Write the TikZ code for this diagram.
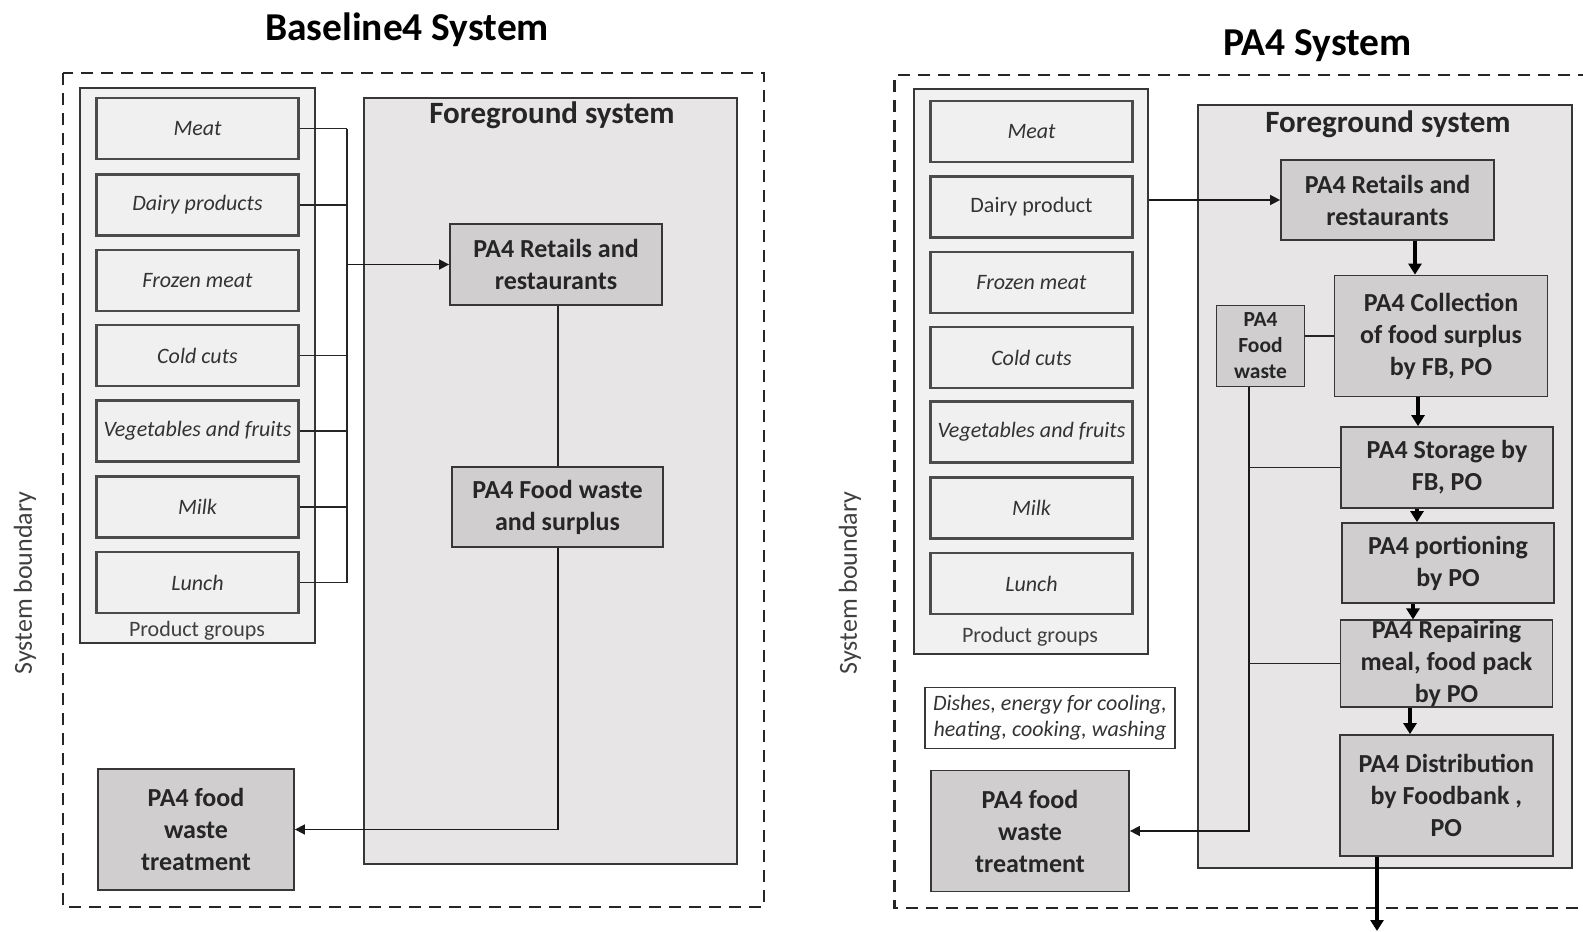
\documentclass[tikz,border=0pt]{standalone}
\usepackage{fontspec}
\setmainfont{Carlito}
\usetikzlibrary{arrows.meta}
\definecolor{fgfill}{RGB}{231,229,229}
\definecolor{procfill}{RGB}{208,206,206}
\definecolor{pgfill}{RGB}{241,241,241}
\definecolor{itemfill}{RGB}{240,240,240}
\definecolor{edge}{RGB}{55,55,55}
\definecolor{itemedge}{RGB}{75,75,75}
\definecolor{labgray}{RGB}{64,64,64}
\tikzset{
  pgbox/.style={draw=edge, line width=1.6pt, fill=pgfill, inner sep=0pt},
  fgbox/.style={draw=edge, line width=1.6pt, fill=fgfill, inner sep=0pt},
  itembox/.style={draw=itemedge, line width=2.2pt, fill=itemfill, inner sep=0pt,
    minimum width=202pt, minimum height=61pt, font=\fontsize{22}{26}\selectfont\itshape, text=black!80},
  procbox/.style={draw=edge, line width=1.8pt, fill=procfill, inner sep=0pt, align=center,
    font=\fontsize{26}{32}\selectfont\bfseries, text=black!85},
  smallproc/.style={draw=edge, line width=1.8pt, fill=procfill, inner sep=0pt, align=center,
    font=\fontsize{21.5}{26}\selectfont\bfseries, text=black!85},
  note/.style={draw=edge, line width=1.5pt, fill=white, inner sep=0pt, align=center,
    font=\fontsize{22}{26}\selectfont\itshape, text=black!80},
  titletext/.style={font=\fontsize{39.5}{44}\selectfont\bfseries},
  fgtitle/.style={font=\fontsize{31}{34}\selectfont\bfseries, text=black!85},
  grouplab/.style={font=\fontsize{22}{24}\selectfont, text=labgray},
  boundlab/.style={font=\fontsize{26}{28}\selectfont, text=labgray, rotate=90},
  conn/.style={draw=black!85, line width=1.5pt},
  arr/.style={draw=black!90, line width=1.6pt, -{Triangle[length=10pt,width=10pt]}},
  thickarr/.style={draw=black, line width=3.2pt, -{Triangle[length=11pt,width=13pt]}},
  bound/.style={draw=black!85, line width=2.6pt, dash pattern=on 12pt off 8pt},
}
\begin{document}
\begin{tikzpicture}[x=1pt,y=-1pt]
\useasboundingbox (0,0) rectangle (1583,932);

% ================= LEFT: Baseline4 =================
\node[titletext] (titleL) at (407,30) {Baseline4 System};
\draw[bound] (63,73) rectangle (764,907);
\node[boundlab] (sbL) at (25,583) {System boundary};

\node[pgbox, minimum width=235pt, minimum height=555pt] (pgL) at (197.5,365.5) {};
\node[grouplab] (pglabL) at (197,631) {Product groups};
\node[itembox] (mL) at (197.5,128.5) {Meat};
\node[itembox] (dL) at (197.5,205) {Dairy products};
\node[itembox] (frL) at (197.5,280.5) {Frozen meat};
\node[itembox] (cL) at (197.5,355.5) {Cold cuts};
\node[itembox] (vL) at (197.5,431) {Vegetables and fruits};
\node[itembox] (miL) at (197.5,507) {Milk};
\node[itembox] (luL) at (197.5,582.5) {Lunch};

\node[fgbox, minimum width=373pt, minimum height=766pt] (fgL) at (550.5,481) {};
\node[fgtitle] (fgtL) at (552,115) {Foreground system};

\node[procbox, minimum width=212pt, minimum height=81pt] (retL) at (556,264.5) {PA4 Retails and\\restaurants};
\node[procbox, minimum width=211pt, minimum height=80pt] (fwsL) at (557.5,507) {PA4 Food waste\\and surplus};
\node[procbox, minimum width=196pt, minimum height=121pt] (trtL) at (196,829.5) {PA4 food\\waste\\treatment};

\coordinate (busL) at (347,0);
\foreach \n in {mL,dL,cL,vL,miL,luL}{
  \draw[conn] (\n.east) -- (\n.east -| busL);
}
\draw[conn] (mL.east -| busL) -- (luL.east -| busL);
\draw[arr] (retL.west -| busL) -- (retL.west);
\coordinate (vlineL) at (558,0);
\draw[conn] (retL.south -| vlineL) -- (fwsL.north -| vlineL);
\draw[arr] (fwsL.south -| vlineL) |- (trtL.east);

% ================= RIGHT: PA4 =================
\node[titletext] (titleR) at (1317.5,46) {PA4 System};
\draw[bound] (1590,75) -- (894.5,75) -- (894.5,908) -- (1590,908);
\node[boundlab] (sbR) at (850,583) {System boundary};

\node[pgbox, minimum width=234pt, minimum height=565pt] (pgR) at (1031,371.5) {};
\node[grouplab] (pglabR) at (1030,637) {Product groups};
\node[itembox] (mR) at (1031.5,131.5) {Meat};
\node[itembox, font=\fontsize{22}{26}\selectfont] (dR) at (1031.5,207) {Dairy product};
\node[itembox] (frR) at (1031.5,282.5) {Frozen meat};
\node[itembox] (cR) at (1031.5,357.5) {Cold cuts};
\node[itembox] (vR) at (1031.5,432) {Vegetables and fruits};
\node[itembox] (miR) at (1031.5,508) {Milk};
\node[itembox] (luR) at (1031.5,583.5) {Lunch};

\node[note, minimum width=250pt, minimum height=61pt] (dish) at (1050,718) {Dishes, energy for cooling,\\heating, cooking, washing};

\node[fgbox, minimum width=374pt, minimum height=763pt] (fgR) at (1385,486.5) {};
\node[fgtitle] (fgtR) at (1388,124) {Foreground system};

\node[procbox, minimum width=213pt, minimum height=80pt] (retR) at (1387.5,200) {PA4 Retails and\\restaurants};
\node[procbox, minimum width=213pt, minimum height=121pt] (colR) at (1441,336) {PA4 Collection\\of food surplus\\by FB, PO};
\node[smallproc, minimum width=88pt, minimum height=81pt] (fwR) at (1260.5,346) {PA4\\Food\\waste};
\node[procbox, minimum width=212pt, minimum height=81pt] (stR) at (1447,467.5) {PA4 Storage by\\FB, PO};
\node[procbox, minimum width=212pt, minimum height=80pt] (poR) at (1448,563) {PA4 portioning\\by PO};
\node[procbox, minimum width=212pt, minimum height=81pt] (reR) at (1446.5,663.5) {PA4 Repairing\\meal, food pack\\by PO};
\node[procbox, minimum width=213pt, minimum height=121pt] (diR) at (1446.3,795.5) {PA4 Distribution\\by Foodbank ,\\PO};
\node[procbox, minimum width=198pt, minimum height=121pt] (trtR) at (1030,831) {PA4 food\\waste\\treatment};

\draw[arr] (pgR.east |- retR.west) -- (retR.west);
\draw[conn] (fwR.east |- colR.west) -- (colR.west);

\coordinate (a1) at (1415,0);
\coordinate (a2) at (1418,0);
\coordinate (a3) at (1417,0);
\coordinate (a4) at (1413,0);
\coordinate (a5) at (1410,0);
\coordinate (a6) at (1377,0);
\coordinate (outR) at (1377,931);
\draw[thickarr] (retR.south -| a1) -- (colR.north -| a1);
\draw[thickarr] (colR.south -| a2) -- (stR.north -| a2);
\draw[thickarr] (stR.south -| a3) -- (poR.north -| a3);
\draw[thickarr] (poR.south -| a4) -- (reR.north -| a4);
\draw[thickarr] (reR.south -| a5) -- (diR.north -| a5);
\draw[thickarr] (diR.south -| a6) -- (outR);

\coordinate (vx) at (1249,0);
\draw[arr] (fwR.south -| vx) |- (trtR.east);
\draw[conn] (vx |- stR.west) -- (stR.west);
\draw[conn] (vx |- reR.west) -- (reR.west);
\end{tikzpicture}
\end{document}
